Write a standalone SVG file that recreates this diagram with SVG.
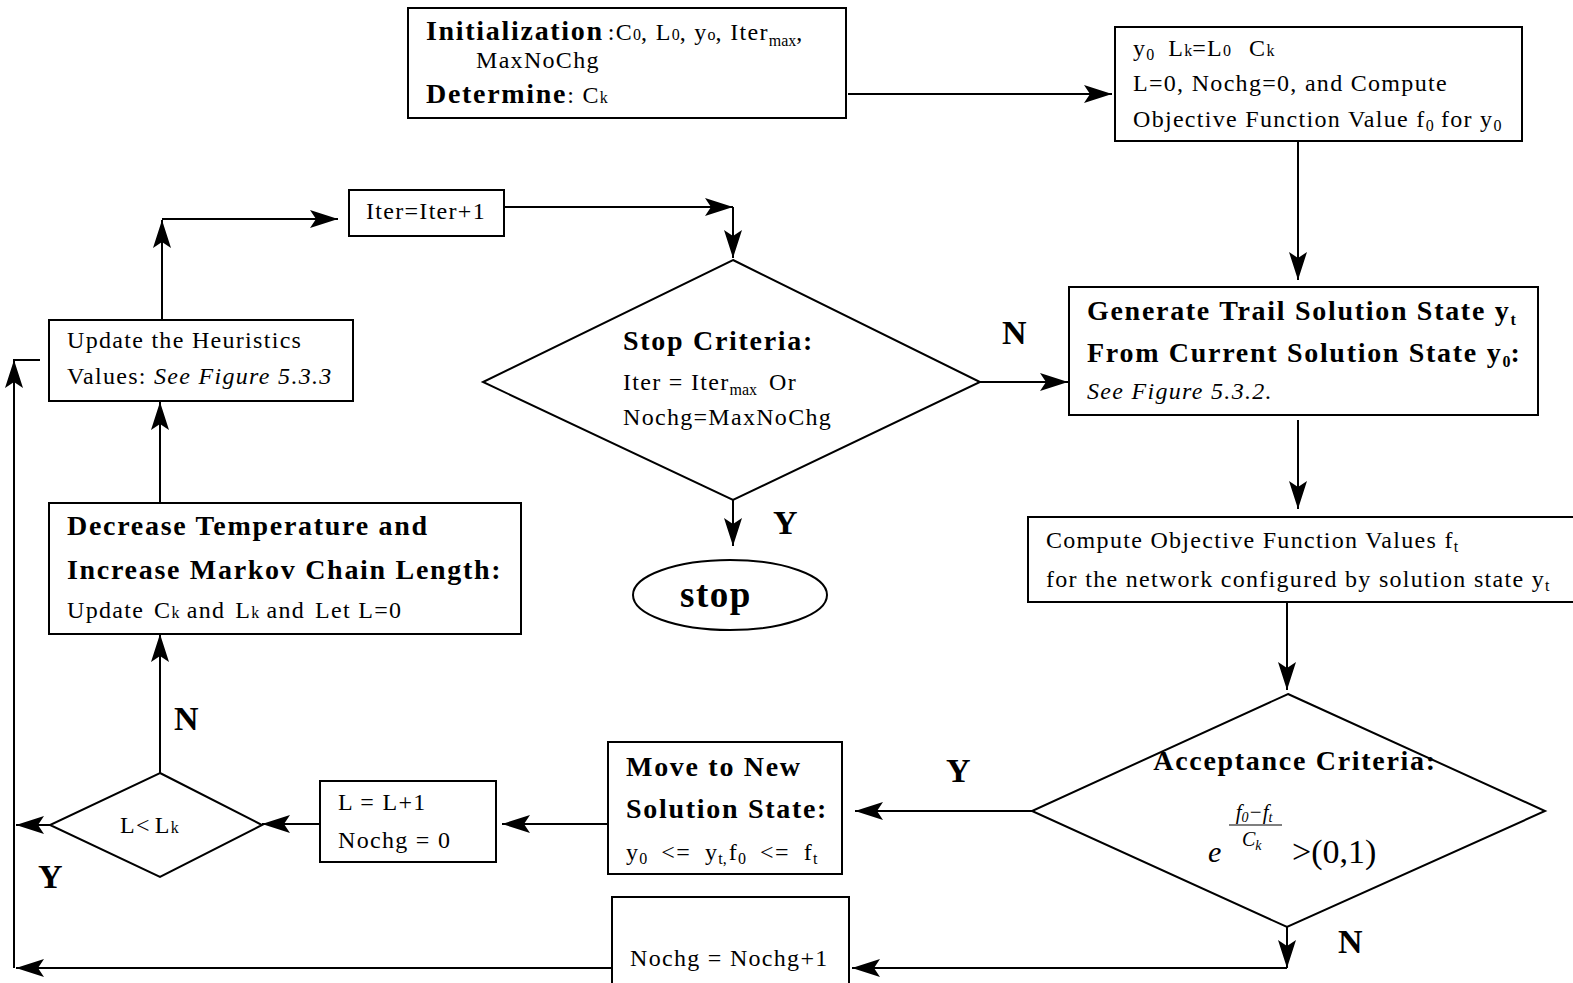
<svg xmlns="http://www.w3.org/2000/svg" width="1573" height="983" viewBox="0 0 1573 983">
<defs>
<marker id="ah" markerUnits="userSpaceOnUse" markerWidth="30" markerHeight="20" refX="28" refY="9" orient="auto">
<path d="M0,0 L28,9 L0,18 L6,9 z" fill="#000"/>
</marker>
<style>
.box{fill:#fff;stroke:#000;stroke-width:2}
.ln{fill:none;stroke:#000;stroke-width:2}
.arr{fill:none;stroke:#000;stroke-width:2;marker-end:url(#ah)}
text{font-family:"Liberation Serif","Times New Roman",serif;fill:#000}
.r{font-size:24px;letter-spacing:1.3px}
.b{font-size:28px;font-weight:bold;letter-spacing:1.7px}
.i{font-style:italic}
.lab{font-size:34px;font-weight:bold}
.sub{font-size:16px;letter-spacing:0}
</style>
</defs>
<rect width="1573" height="983" fill="#fff"/>

<g id="connectors">
<path class="arr" d="M848,94 L1112,94"/>
<path class="arr" d="M1298,141 L1298,280"/>
<path class="arr" d="M1298,420 L1298,509"/>
<path class="arr" d="M1287,602 L1287,690"/>
<path class="arr" d="M1032,811 L855,811"/>
<path class="arr" d="M608,824 L502,824"/>
<path class="arr" d="M320,824 L262,824"/>
<path class="arr" d="M50,825 L16,825"/>
<path class="arr" d="M160,773 L160,634"/>
<path class="arr" d="M160,503 L160,402"/>
<path class="arr" d="M162,320 L162,220"/>
<path class="arr" d="M162,219 L338,219"/>
<path class="arr" d="M505,207 L733,207"/>
<path class="arr" d="M733,207 L733,258"/>
<path class="arr" d="M980,382 L1068,382"/>
<path class="arr" d="M733,500 L733,546"/>
<path class="arr" d="M1287,927 L1287,968"/>
<path class="arr" d="M1287,968 L852,968"/>
<path class="arr" d="M612,968 L16,968"/>
<path class="ln" d="M14,968 L14,360 L40,360"/>
<path class="arr" d="M14,400 L14,360"/>
</g>

<g id="n-init">
<rect class="box" x="408" y="8" width="438" height="110"/>
<text x="426" y="40"><tspan class="b" font-size="27">Initialization</tspan><tspan class="r" dx="4">:C</tspan><tspan class="sub">0</tspan><tspan class="r">, L</tspan><tspan class="sub">0</tspan><tspan class="r">, y</tspan><tspan class="sub">o</tspan><tspan class="r">, Iter</tspan><tspan class="sub" dy="6">max</tspan><tspan class="r" dy="-6">,</tspan></text>
<text class="r" x="476" y="68">MaxNoChg</text>
<text x="426" y="103"><tspan class="b" font-size="25">Determine</tspan><tspan class="r">: C</tspan><tspan class="sub">k</tspan></text>
</g>

<g id="n-setup">
<rect class="box" x="1115" y="27" width="407" height="114"/>
<text class="r" x="1133" y="56">y<tspan class="sub" dy="4">0</tspan><tspan dy="-4" dx="14">L</tspan><tspan class="sub">k</tspan>=L<tspan class="sub">0</tspan><tspan dx="18">C</tspan><tspan class="sub">k</tspan></text>
<text class="r" x="1133" y="91">L=0, Nochg=0,  and Compute</text>
<text class="r" x="1133" y="127">Objective Function Value f<tspan class="sub" dy="4">0</tspan><tspan dy="-4"> for y</tspan><tspan class="sub" dy="4">0</tspan></text>
</g>

<g id="n-generate">
<rect class="box" x="1069" y="287" width="469" height="128"/>
<text class="b" x="1087" y="320">Generate Trail Solution State y<tspan class="sub" dy="5">t</tspan></text>
<text class="b" x="1087" y="362">From Current Solution State y<tspan class="sub" dy="5">0</tspan><tspan dy="-5">:</tspan></text>
<text class="r i" x="1087" y="399">See Figure 5.3.2.</text>
</g>

<g id="n-compute">
<rect class="box" x="1028" y="517" width="550" height="85"/>
<text class="r" x="1046" y="548">Compute Objective Function Values f<tspan class="sub" dy="4">t</tspan></text>
<text class="r" x="1046" y="587">for the network configured by solution state y<tspan class="sub" dy="4">t</tspan></text>
</g>

<g id="n-accept">
<polygon class="box" points="1288,694 1545,811 1287,927 1032,811"/>
<text class="b" x="1295" y="770" text-anchor="middle">Acceptance Criteria:</text>
<text x="1254" y="819" font-size="21" font-style="italic" text-anchor="middle">f<tspan font-size="14" dy="3">0</tspan><tspan dy="-3">−</tspan>f<tspan font-size="14" dy="3">t</tspan></text>
<line x1="1229" y1="825" x2="1282" y2="825" stroke="#000" stroke-width="1.2"/>
<text x="1242" y="846" font-size="20" font-style="italic">C<tspan font-size="14" dy="4">k</tspan></text>
<text x="1208" y="862" font-size="30" font-style="italic" font-family="Liberation Sans, Arial, sans-serif">e</text>
<text x="1292" y="863" font-size="34">&gt;(0,1)</text>
</g>

<g id="n-move">
<rect class="box" x="608" y="742" width="234" height="132"/>
<text class="b" x="626" y="776">Move to New</text>
<text class="b" x="626" y="818">Solution State:</text>
<text class="r" x="626" y="860">y<tspan class="sub" dy="4">0</tspan><tspan dy="-4" dx="14">&lt;=</tspan><tspan dx="14">y</tspan><tspan class="sub" dy="4">t,</tspan><tspan dy="-4" dx="2">f</tspan><tspan class="sub" dy="4">0</tspan><tspan dy="-4" dx="14">&lt;=</tspan><tspan dx="14">f</tspan><tspan class="sub" dy="4">t</tspan></text>
</g>

<g id="n-lplus">
<rect class="box" x="320" y="781" width="176" height="81"/>
<text class="r" x="338" y="810">L = L+1</text>
<text class="r" x="338" y="848">Nochg = 0</text>
</g>

<g id="n-lcheck">
<polygon class="box" points="160,773 262,825 160,877 50,825"/>
<text class="r" x="120" y="833" font-size="27">L&lt;<tspan dx="4">L</tspan><tspan class="sub" font-size="17">k</tspan></text>
</g>

<g id="n-decrease">
<rect class="box" x="49" y="503" width="472" height="131"/>
<text class="b" x="67" y="535">Decrease Temperature and</text>
<text class="b" x="67" y="579">Increase Markov Chain Length:</text>
<text class="r" x="67" y="618">Update<tspan dx="10">C</tspan><tspan class="sub">k</tspan> and<tspan dx="10">L</tspan><tspan class="sub">k</tspan> and<tspan dx="10">Let L=0</tspan></text>
</g>

<g id="n-update">
<rect class="box" x="49" y="320" width="304" height="81"/>
<text class="r" x="67" y="348">Update the Heuristics</text>
<text class="r" x="67" y="384">Values: <tspan class="i">See Figure 5.3.3</tspan></text>
</g>

<g id="n-iter">
<rect class="box" x="349" y="190" width="155" height="46"/>
<text class="r" x="366" y="219">Iter=Iter+1</text>
</g>

<g id="n-stopcrit">
<polygon class="box" points="733,260 980,382 733,500 483,382"/>
<text class="b" x="623" y="350" font-size="27">Stop Criteria:</text>
<text class="r" x="623" y="390">Iter = Iter<tspan class="sub" dy="5">max</tspan><tspan dy="-5" dx="12">Or</tspan></text>
<text class="r" x="623" y="425">Nochg=MaxNoChg</text>
</g>

<g id="n-stop">
<ellipse class="box" cx="730" cy="595" rx="97" ry="35"/>
<text x="716" y="607" font-size="37" font-weight="bold" letter-spacing="1.5" text-anchor="middle">stop</text>
</g>

<g id="n-nochg">
<rect class="box" x="612" y="897" width="237" height="95"/>
<text class="r" x="630" y="966">Nochg = Nochg+1</text>
</g>

<g id="labels">
<text class="lab" x="1002" y="344">N</text>
<text class="lab" x="773" y="534">Y</text>
<text class="lab" x="946" y="782">Y</text>
<text class="lab" x="1338" y="953">N</text>
<text class="lab" x="174" y="730">N</text>
<text class="lab" x="38" y="888">Y</text>
</g>
</svg>
